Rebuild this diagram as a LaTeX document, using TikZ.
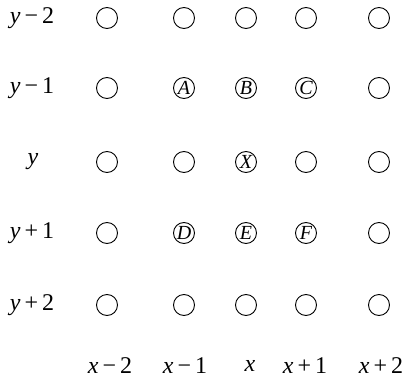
\documentclass[tikz,border=0pt]{standalone}
\usepackage{fontspec}
\setmainfont{Liberation Serif}
\newfontfamily\tms{Liberation Serif}
\begin{document}
\begin{tikzpicture}[x=1pt,y=-1pt,
  dot/.style={draw,circle,line width=0.9pt,minimum size=21pt,inner sep=0pt,font=\tms\fontsize{20}{20}\selectfont\itshape},
  lab/.style={font=\tms\fontsize{24}{24}\selectfont,inner sep=0pt}]
\useasboundingbox (0,0) rectangle (410,388);
\foreach \c/\xx in {1/107,2/184,3/246,4/306,5/379}{
  \foreach \r/\yy in {1/18,2/88,3/162,4/233,5/305}{
    \coordinate (p\c\r) at (\xx,\yy);
  }
}
% row labels
\node[lab] (r1) at (32,18) {\textit{y}\,−\,2};
\node[lab] (r2) at (32,88) {\textit{y}\,−\,1};
\node[lab] (r3) at (33,162) {\textit{y}};
\node[lab] (r4) at (32,233) {\textit{y}\,+\,1};
\node[lab] (r5) at (32,305) {\textit{y}\,+\,2};
% column labels
\node[lab] (c1) at (110,366) {\textit{x}\,−\,2};
\node[lab] (c2) at (185,366) {\textit{x}\,−\,1};
\node[lab] (c3) at (250,366) {\textit{x}};
\node[lab] (c4) at (305,366) {\textit{x}\,+\,1};
\node[lab] (c5) at (381,366) {\textit{x}\,+\,2};
% grid
\node[dot] (n11) at (p11) {};
\node[dot] (n21) at (p21) {};
\node[dot] (n31) at (p31) {};
\node[dot] (n41) at (p41) {};
\node[dot] (n51) at (p51) {};
\node[dot] (n12) at (p12) {};
\node[dot] (A) at (p22) {A};
\node[dot] (B) at (p32) {B};
\node[dot] (C) at (p42) {C};
\node[dot] (n52) at (p52) {};
\node[dot] (n13) at (p13) {};
\node[dot] (n23) at (p23) {};
\node[dot] (X) at (p33) {X};
\node[dot] (n43) at (p43) {};
\node[dot] (n53) at (p53) {};
\node[dot] (n14) at (p14) {};
\node[dot] (D) at (p24) {D};
\node[dot] (E) at (p34) {E};
\node[dot] (F) at (p44) {F};
\node[dot] (n54) at (p54) {};
\node[dot] (n15) at (p15) {};
\node[dot] (n25) at (p25) {};
\node[dot] (n35) at (p35) {};
\node[dot] (n45) at (p45) {};
\node[dot] (n55) at (p55) {};
\end{tikzpicture}
\end{document}
